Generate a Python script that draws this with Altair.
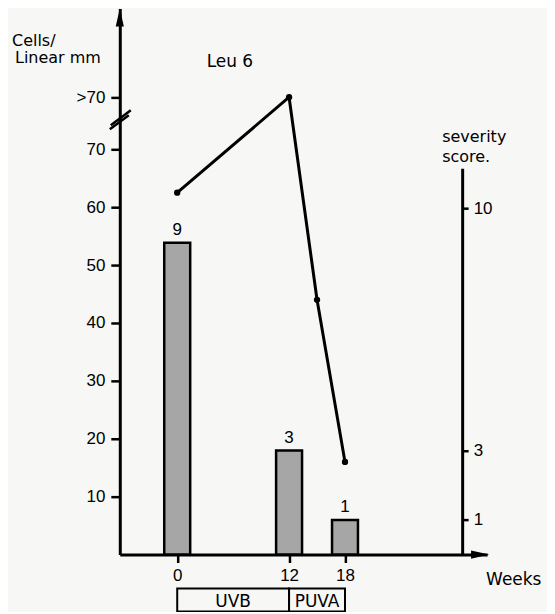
import altair as alt
import pandas as pd

# ---- data ----
line_weeks = [0, 12, 15, 18]
cells_per_mm = [62.5, 79, 44, 16]          # 79 plotted at the ">70" position
bar_weeks = [0, 12, 18]
severity = [9, 3, 1]
severity_labels = ["9", "3", "1"]
left_ticks = [10, 20, 30, 40, 50, 60, 70, 79]
right_ticks = [1, 3, 10]
week_ticks = [0, 12, 18]
phases = ["UVB", "PUVA"]
phase_start = [0, 12]
phase_end = [12, 18]
texts = {"cells": "Cells/", "linear": "Linear mm", "marker": "Leu 6",
         "sev1": "severity", "sev2": "score.", "weeks": "Weeks"}

BG = "#f7f7f5"
W, H = 368, 547
WORD_FONT = "DejaVu Sans"
NUM_FONT = "Liberation Sans"

line_df = pd.DataFrame({"week": line_weeks, "cells": cells_per_mm})
bar_df = pd.DataFrame({"week": bar_weeks, "score": severity, "label": severity_labels})
phase_df = pd.DataFrame({"phase": phases, "start": phase_start, "end": phase_end})
one = pd.DataFrame({"d": [0]})

xscale = alt.Scale(domain=[-5.625, 32.71], nice=False, zero=False)
x_axis = alt.Axis(values=week_ticks, title=None, grid=False, tickSize=8, tickWidth=2.5,
                  tickColor="black", domainColor="black", domainWidth=3,
                  labelFont=NUM_FONT, labelFontSize=17, labelColor="black",
                  labelPadding=5, labelOverlap=False)

left_scale = alt.Scale(domain=[0, 94.31], nice=False, zero=False)
left_axis = alt.Axis(orient="left", values=left_ticks, title=None, grid=False,
                     labelExpr="datum.value == 79 ? '>70' : datum.label",
                     tickSize=9, tickWidth=2.5, tickColor="black",
                     domainColor="black", domainWidth=3,
                     labelFont=NUM_FONT, labelFontSize=17, labelColor="black",
                     labelPadding=6, labelOverlap=False)

right_scale = alt.Scale(domain=[0, 11.15], range=[H, 160], nice=False, zero=False)
right_axis = alt.Axis(orient="right", offset=-25, values=right_ticks, title=None, grid=False,
                      tickSize=6, tickWidth=2.5, tickColor="black",
                      domainColor="black", domainWidth=3,
                      labelFont=NUM_FONT, labelFontSize=17, labelColor="black",
                      labelPadding=5, labelOverlap=False)

def X(field):
    return alt.X(field, type="quantitative", scale=xscale, axis=x_axis)

bars = alt.Chart(bar_df).mark_bar(size=26, fill="#a6a6a6", stroke="black", strokeWidth=2.5).encode(
    x=X("week"),
    y=alt.Y("score:Q", scale=right_scale, axis=right_axis),
)
bar_text = alt.Chart(bar_df).mark_text(font=NUM_FONT, fontSize=17, color="black",
                                       baseline="alphabetic", dy=-8).encode(
    x=X("week"),
    y=alt.Y("score:Q", scale=right_scale, axis=None),
    text="label:N",
)
line = alt.Chart(line_df).mark_line(color="black", strokeWidth=3).encode(
    x=X("week"),
    y=alt.Y("cells:Q", scale=left_scale, axis=left_axis),
)
pts = alt.Chart(line_df).mark_point(filled=True, color="black", size=40, opacity=1).encode(
    x=X("week"),
    y=alt.Y("cells:Q", scale=left_scale, axis=None),
)

# treatment bar below the axis
phase_box = alt.Chart(phase_df).mark_rect(fill=BG, stroke="black", strokeWidth=2).encode(
    x=X("start"), x2="end", y=alt.value(581), y2=alt.value(604),
)
phase_text = alt.Chart(phase_df).transform_calculate(mid="(datum.start + datum.end) / 2").mark_text(
    font=WORD_FONT, fontSize=17, color="black", baseline="alphabetic", align="center"
).encode(x=X("mid"), y=alt.value(600), text="phase:N")

# axis decorations
y_arrow = alt.Chart(one).mark_point(shape="M0,-1L0.45,1L-0.45,1Z", filled=True, color="black",
                                    size=330, opacity=1).encode(x=alt.value(0), y=alt.value(9))
x_arrow = alt.Chart(one).mark_point(shape="M1,0L-1,-0.45L-1,0.45Z", filled=True, color="black",
                                    size=330, opacity=1).encode(x=alt.value(361), y=alt.value(H))
brk1 = alt.Chart(one).mark_rule(color="black", strokeWidth=2.5).encode(
    x=alt.value(-10), x2=alt.value(9), y=alt.value(121), y2=alt.value(107))
brk2 = alt.Chart(one).mark_rule(color="black", strokeWidth=2.5).encode(
    x=alt.value(-9), x2=alt.value(11), y=alt.value(117), y2=alt.value(102))

def label(key, x, y, size=17):
    return alt.Chart(one).mark_text(text=texts[key], font=WORD_FONT, fontSize=size, color="black",
                                    align="left", baseline="alphabetic").encode(
        x=alt.value(x), y=alt.value(y))

labels = [
    label("cells", -108, 38, 16),
    label("linear", -105, 55, 16),
    label("marker", 87, 59),
    label("sev1", 323, 134, 16),
    label("sev2", 323, 154, 16),
    label("weeks", 367, 578),
]

chart = alt.layer(
    bars, bar_text, line, pts, phase_box, phase_text, y_arrow, x_arrow, brk1, brk2, *labels
).resolve_scale(y="independent").properties(
    width=W, height=H,
    autosize=alt.AutoSizeParams(type="none"),
    padding={"left": 112, "top": 0, "right": 60, "bottom": 57},
    background=BG,
).configure_view(strokeWidth=0)

chart.save("out.html", embed_options={"renderer": "svg", "actions": False})
